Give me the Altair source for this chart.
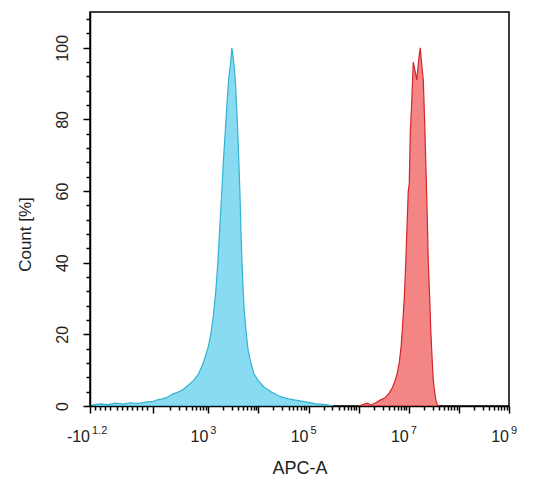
import altair as alt
import pandas as pd
import math

# Transformed APC-A axis position (decades, biexponential display) and Count [%]
cyan_t = [0.70, 0.85, 1.00, 1.15, 1.30, 1.45, 1.60, 1.75, 1.90, 2.00, 2.10, 2.20, 2.30, 2.40,
          2.50, 2.60, 2.70, 2.80, 2.90, 3.00, 3.05, 3.10, 3.15, 3.19, 3.23, 3.27, 3.30, 3.34,
          3.38, 3.41, 3.44, 3.47, 3.50, 3.54, 3.57, 3.59, 3.63, 3.65, 3.67, 3.70, 3.72, 3.76,
          3.79, 3.85, 3.91, 4.00, 4.11, 4.25, 4.44, 4.60, 4.80, 4.97, 5.15, 5.35, 5.50]
cyan_pct = [0.3, 0.6, 0.4, 0.8, 0.5, 0.9, 0.7, 1.1, 1.3, 1.8, 2.0, 2.6, 3.4, 3.9,
            4.6, 5.8, 7.0, 8.8, 12.0, 16.5, 20, 25, 32, 40, 50, 60, 68, 77,
            86, 92, 95, 100, 97, 91, 82, 76, 60, 50, 41, 31, 26, 20,
            16, 12, 9, 7, 5.3, 4.0, 2.6, 2.0, 1.5, 1.1, 0.6, 0.4, 0.0]

red_t = [6.00, 6.10, 6.17, 6.25, 6.35, 6.44, 6.52, 6.61, 6.67, 6.71, 6.76, 6.81, 6.85, 6.87,
         6.91, 6.94, 6.97, 6.99, 7.01, 7.03, 7.06, 7.09, 7.12, 7.16, 7.20, 7.23, 7.26, 7.29,
         7.32, 7.34, 7.37, 7.39, 7.42, 7.44, 7.47, 7.49, 7.52, 7.54, 7.57, 7.60]
red_pct = [0.0, 0.5, 0.8, 0.3, 1.0, 1.7, 2.2, 3.6, 5.0, 6.4, 8.5, 12, 17, 21,
           30, 40, 52, 60, 62, 76, 85, 96, 94, 91, 97, 100, 95, 91,
           78, 68, 52, 40, 29, 21, 12, 7, 3.5, 1.7, 0.3, 0.0]

# x tick labels: position, base, exponent
label_t = [0.64, 3, 5, 7, 9]
label_base = ["-10", "10", "10", "10", "10"]
label_exp = ["1.2", "3", "5", "7", "9"]

cyan_df = pd.DataFrame({"t": cyan_t, "pct": cyan_pct})
red_df = pd.DataFrame({"t": red_t, "pct": red_pct})
lab_df = pd.DataFrame({"t": label_t, "base": label_base, "exp": label_exp,
                       "shift": [18, 1, 1, 1, 1]})

# axis tick positions
x_major = [0.64, 1.9, 3, 4, 5, 6, 7, 8, 9]
x_minor = [0.74, 0.84, 0.94, 1.04, 1.17, 1.27, 1.37, 1.47, 1.57, 1.67, 1.77]
for d in range(2, 9):
    lo = 1.9 if d == 2 else d
    span = 3 - 1.9 if d == 2 else 1
    for k in range(2, 10):
        x_minor.append(round(lo + span * math.log10(k), 3))
x_ticks = sorted(x_major + x_minor)
major_test = " || ".join([f"datum.value == {v}" for v in x_major])

FONT = "Liberation Sans"
INK = "#222222"
H = 394

x_enc = alt.X("t:Q", scale=alt.Scale(domain=[0.64, 9], nice=False, zero=False),
              axis=alt.Axis(
                  title="APC-A", values=x_ticks, labels=False,
                  tickSize={"condition": {"test": major_test, "value": 7}, "value": 4},
                  tickColor="black", tickWidth=1.5, domainColor="black", domainWidth=1.5,
                  grid=False, titleFont=FONT, titleFontSize=18, titleFontWeight="normal",
                  titleColor=INK, titlePadding=46))
y_enc = alt.Y("pct:Q", scale=alt.Scale(domain=[0, 110], nice=False),
              axis=alt.Axis(
                  title="Count [%]", values=list(range(0, 109, 4)),
                  labelExpr="datum.value % 20 == 0 ? datum.value : ''",
                  tickSize={"condition": {"test": "datum.value % 20 == 0", "value": 7}, "value": 4},
                  tickColor="black", tickWidth=1.5, domainColor="black", domainWidth=1.5,
                  labelAngle=-90, labelAlign="center", labelBaseline="bottom",
                  labelFont=FONT, labelFontSize=16, labelColor=INK, labelPadding=13,
                  labelOverlap=False, grid=False,
                  titleFont=FONT, titleFontSize=17, titleFontWeight="normal",
                  titleColor=INK, titlePadding=20, titleY=222))

cyan = alt.Chart(cyan_df).mark_area(
    interpolate="linear", color="#7cd7f1", fillOpacity=0.9,
    stroke="#33b2d2", strokeWidth=1.2, clip=True
).encode(x=x_enc, y=y_enc)

red = alt.Chart(red_df).mark_area(
    interpolate="linear", color="#f27878", fillOpacity=0.9,
    stroke="#d3262c", strokeWidth=1.2, clip=True
).encode(x=x_enc, y=y_enc)

base_txt = alt.Chart(lab_df).mark_text(
    align="right", baseline="middle", font=FONT, fontSize=16, color=INK
).encode(x=x_enc, y=alt.value(H + 31), text="base:N",
         xOffset=alt.XOffset("shift:Q", scale=None))

exp_txt = alt.Chart(lab_df).mark_text(
    align="left", baseline="middle", font=FONT, fontSize=11, color=INK, dx=2
).encode(x=x_enc, y=alt.value(H + 25), text="exp:N",
         xOffset=alt.XOffset("shift:Q", scale=None))

chart = alt.layer(cyan, red, base_txt, exp_txt).properties(
    width=419, height=H,
    autosize=alt.AutoSizeParams(type="none"),
    padding={"left": 82, "top": 4, "right": 16, "bottom": 77},
).configure_view(stroke="black", strokeWidth=1.5)

chart.save("out.html", embed_options={"renderer": "svg", "actions": False})
